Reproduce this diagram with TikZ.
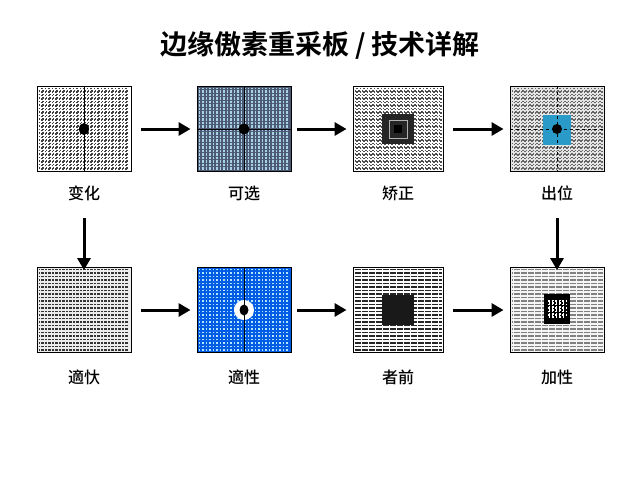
\documentclass[tikz,border=0pt]{standalone}
\usepackage{fontspec}
\newfontfamily\cjk{Noto Sans CJK SC}[UprightFont=* Medium,BoldFont=* Bold]
\usetikzlibrary{arrows.meta}
\begin{document}
\begin{tikzpicture}[x=1pt,y=-1pt,
  box/.style={draw=black,line width=0.9pt,minimum width=94pt,minimum height=85pt,inner sep=0pt},
  lbl/.style={font=\cjk\fontsize{16}{16}\selectfont},
  arr/.style={-{Triangle[length=12pt,width=13pt]},line width=3pt},
  gridd/.style={step=3.5pt,line width=1.3pt,dash pattern=on 1.8pt off 1.7pt}]
\useasboundingbox (0,0) rectangle (640,480);
\node[font=\cjk\bfseries\fontsize{27}{27}\selectfont] (title) at (320,45) {边缘傲素重采板 / 技术详解};
% row 1
\node[box,fill=white] (b1) at (84,129) {};
\node[box,fill=teal!50!blue!30!black!70] (b2) at (244,129) {};
\node[box,fill=white,minimum width=90pt] (b3) at (398,129) {};
\node[box,fill=gray!20] (b4) at (557,129) {};
% row 2
\node[box,fill=gray!15] (b5) at (84,310) {};
\node[box,fill=blue!60!cyan!90!black] (b6) at (244,310) {};
\node[box,fill=white,minimum width=90pt] (b7) at (398,310) {};
\node[box,fill=gray!8] (b8) at (557,310) {};
% textures
\foreach \b/\c in {b1/black!75,b2/cyan!35!white!80!gray,b3/black!70,b4/black!60,b5/black!80,b6/cyan!30!white,b7/black!85,b8/black!50}{
  \draw[gridd,draw=\c] ([shift={(2,2)}]\b.north west) grid ([shift={(-2,-2)}]\b.south east);
}
% details
\draw[line width=1pt] (b1.north) -- (b1.south);
\fill (b1.center) ellipse (5pt and 6pt);
\draw[line width=1pt] (b2.north) -- (b2.south);
\draw[line width=0.6pt] (b2.west)--(b2.east);
\fill (b2.center) circle (5.5pt);
\fill[black!85] ([shift={(-16,-15)}]b3.center) rectangle ([shift={(16,15)}]b3.center);
\draw[gray!60,line width=0.8pt] ([shift={(-9,-9)}]b3.center) rectangle ([shift={(9,9)}]b3.center);
\fill ([shift={(-4,-4)}]b3.center) rectangle ([shift={(4,4)}]b3.center);
\fill[cyan!60!teal] ([shift={(-14,-14)}]b4.center) rectangle ([shift={(14,16)}]b4.center);
\draw[dashed,line width=0.6pt] (b4.north)--(b4.south) (b4.west)--(b4.east);
\fill (b4.center) circle (5pt);
\fill[white] (b6.center) circle (10pt);
\draw[line width=1pt] (b6.north)--(b6.south);
\fill (b6.center) ellipse (4.5pt and 5.5pt);
\fill[black!90] ([shift={(-16,-15)}]b7.center) rectangle ([shift={(16,15)}]b7.center);
\fill[black] ([shift={(-13,-16)}]b8.center) rectangle ([shift={(13,14)}]b8.center);
\draw[gridd,draw=white!70] ([shift={(-9,-10)}]b8.center) grid ([shift={(9,8)}]b8.center);
% labels
\node[lbl] (l1) at (84,193) {变化};
\node[lbl] (l2) at (244,193) {可选};
\node[lbl] (l3) at (398,193) {矫正};
\node[lbl] (l4) at (557,193) {出位};
\node[lbl] (l5) at (84,377) {適忕};
\node[lbl] (l6) at (244,377) {適性};
\node[lbl] (l7) at (398,377) {者前};
\node[lbl] (l8) at (557,377) {加性};
% arrows
\draw[arr] ([xshift=10pt]b1.east) -- ([xshift=-6pt]b2.west);
\draw[arr] ([xshift=6pt]b2.east) -- ([xshift=-6pt]b3.west);
\draw[arr] ([xshift=10pt]b3.east) -- ([xshift=-6pt]b4.west);
\draw[arr] ([xshift=10pt]b5.east) -- ([xshift=-6pt]b6.west);
\draw[arr] ([xshift=6pt]b6.east) -- ([xshift=-6pt]b7.west);
\draw[arr] ([xshift=10pt]b7.east) -- ([xshift=-6pt]b8.west);
\draw[arr] ([yshift=-14pt]l1.south) -- ([yshift=-3pt]b5.north);
\draw[arr] ([yshift=-14pt]l4.south) -- ([yshift=-3pt]b8.north);
\end{tikzpicture}
\end{document}
